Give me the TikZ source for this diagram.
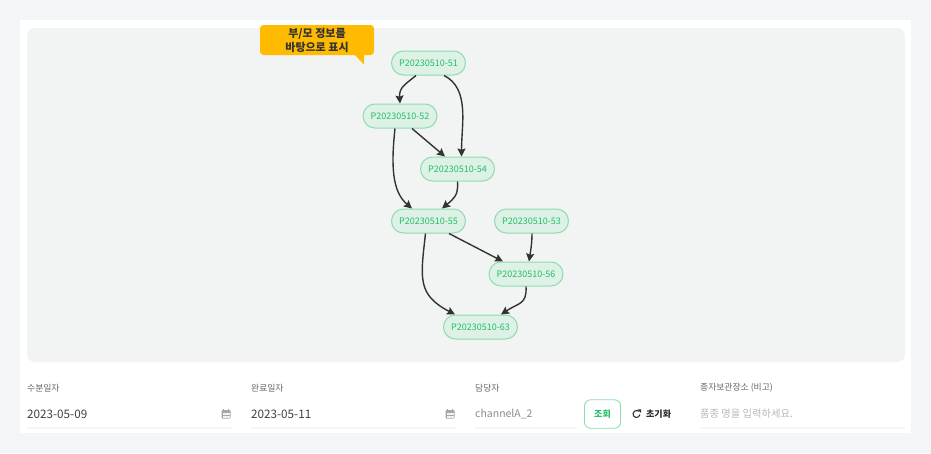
\documentclass[tikz,border=0pt]{standalone}
\usepackage{fontspec}
\setmainfont{Noto Sans CJK KR}
\usetikzlibrary{arrows.meta,calc}
\definecolor{pagebg}{HTML}{F3F6F9}
\definecolor{canvasbg}{HTML}{F2F4F3}
\definecolor{nodefill}{HTML}{DDF1E6}
\definecolor{nodeline}{HTML}{8EDDAE}
\definecolor{nodetext}{HTML}{22BF68}
\definecolor{edgecol}{HTML}{333333}
\definecolor{amber}{HTML}{FFBB00}
\definecolor{labelcol}{HTML}{666666}
\definecolor{rulecol}{HTML}{F5F6F7}
\definecolor{iconcol}{HTML}{A3A8AC}
\tikzset{
  batch/.style={draw=nodeline,fill=nodefill,line width=1pt,rounded corners=11.99pt,
    minimum width=74pt,minimum height=24pt,inner sep=0pt,text=nodetext,font=\fontsize{9}{11}\selectfont},
  link/.style={draw=edgecol,line width=1.4pt,-{Stealth[length=8pt,width=8pt,inset=1.2pt]}},
  fieldlabel/.style={anchor=west,inner sep=0pt,text=labelcol,font=\fontsize{8.8}{11}\selectfont},
  fieldvalue/.style={anchor=west,inner sep=0pt,text=black!75,font=\fontsize{11.7}{13}\selectfont},
  fieldhint/.style={anchor=west,inner sep=0pt,text=black!45,font=\fontsize{10.5}{13}\selectfont},
  fieldrule/.style={draw=rulecol,line width=1.2pt},
  calicon/.pic={
    \fill[iconcol,rounded corners=.8pt] (-4.5,-4) rectangle (4.5,4.5);
    \fill[white!85!iconcol] (-3.5,-1.5) rectangle (3.5,3.5);
    \draw[iconcol,line width=.9pt] (-2.5,-5)--(-2.5,-3.4) (2.5,-5)--(2.5,-3.4);
    \draw[iconcol,line width=.7pt] (-3.5,1)--(3.5,1);
  }
}
\begin{document}
\begin{tikzpicture}[x=1pt,y=-1pt]
\useasboundingbox (0,0) rectangle (931,453);
\fill[pagebg] (0,0) rectangle (931,453);
\fill[white] (20,20) rectangle (911,433);
\fill[canvasbg,rounded corners=8pt] (27,28) rectangle (905,362);

% callout
\fill[amber] (354,54) -- (364,64.5) -- (364,54) -- cycle;
\node[fill=amber,rounded corners=3.5pt,minimum width=114pt,minimum height=30pt,inner sep=0pt,
  align=center,text=black!80,font=\fontsize{11}{14.5}\selectfont\bfseries] (tip) at (317,40) {부/모 정보를\\[-0.5pt]바탕으로 표시};

% graph
\node[batch] (n51) at (428.5,63) {P20230510-51};
\node[batch] (n52) at (400,116) {P20230510-52};
\node[batch] (n54) at (457.5,169) {P20230510-54};
\node[batch] (n55) at (428.5,221) {P20230510-55};
\node[batch] (n53) at (531.5,221) {P20230510-53};
\node[batch] (n56) at (526,274) {P20230510-56};
\node[batch] (n63) at (480.5,327) {P20230510-63};

\draw[link] ([xshift=-12.5pt]n51.south) .. controls +(-11,9) and +(-1,-16) .. (n52.north);
\draw[link] ([xshift=15.5pt]n51.south) .. controls +(26,13) and +(0,-32) .. ([xshift=4pt]n54.north);
\draw[link] ([xshift=12pt]n52.south) -- ([xshift=-12.5pt]n54.north);
\draw[link] ([xshift=-5pt]n52.south) .. controls +(-4,37) and +(-20,-17) .. ([xshift=-16.5pt]n55.north);
\draw[link] (n54.south) .. controls +(1,14) and +(12,-10) .. ([xshift=13.5pt]n55.north);
\draw[link] ([xshift=20.5pt]n55.south) -- ([xshift=-23pt]n56.north);
\draw[link] ([xshift=.5pt]n53.south) .. controls +(0,10) and +(1.5,-10) .. ([xshift=3pt]n56.north);
\draw[link] ([xshift=-3pt]n55.south) .. controls +(-5,45) and +(-38,-20) .. ([xshift=-25.5pt]n63.north);
\draw[link] (n56.south) .. controls +(1,18) and +(18,-12) .. ([xshift=20.5pt]n63.north);

% form row
\node[fieldlabel] (lab1) at (27,388) {수분일자};
\node[fieldlabel] (lab2) at (251,388) {완료일자};
\node[fieldlabel] (lab3) at (475,388) {담당자};
\node[fieldlabel] (lab4) at (700,388) {종자보관장소 (비고)};
\node[fieldvalue] (val1) at (27,414) {2023-05-09};
\node[fieldvalue] (val2) at (251,414) {2023-05-11};
\node[fieldhint] (val3) at (475,414) {channelA\_2};
\node[anchor=west,inner sep=0pt,text=black!28,font=\fontsize{10.3}{13}\selectfont] (val4) at (700,414) {품종 명을 입력하세요.};
\pic at (226,414) {calicon};
\pic at (450,414) {calicon};
\draw[fieldrule] (27,428) -- (232,428);
\draw[fieldrule] (251,428) -- (456,428);
\draw[fieldrule] (475,428) -- (577,428);
\draw[fieldrule] (700,428) -- (905,428);
\node[draw=nodeline,fill=white,line width=.9pt,rounded corners=6pt,minimum width=36pt,minimum height=28.5pt,
  inner sep=0pt,text=nodetext,font=\fontsize{9}{11}\selectfont\bfseries] (btn) at (602.5,414) {조회};
\begin{scope}[shift={(636.5,414)},x=1pt,y=1pt]
\draw[black!80,line width=1.1pt] (-10:3.5) arc[start angle=-10,end angle=-310,radius=3.5];
\fill[black!80] (1,4.6) -- (4.6,1) -- (4.6,4.6) -- cycle;
\end{scope}
\node[anchor=west,inner sep=0pt,text=black!85,font=\fontsize{9}{11}\selectfont\bfseries] (reset) at (646,414) {초기화};
\end{tikzpicture}
\end{document}
